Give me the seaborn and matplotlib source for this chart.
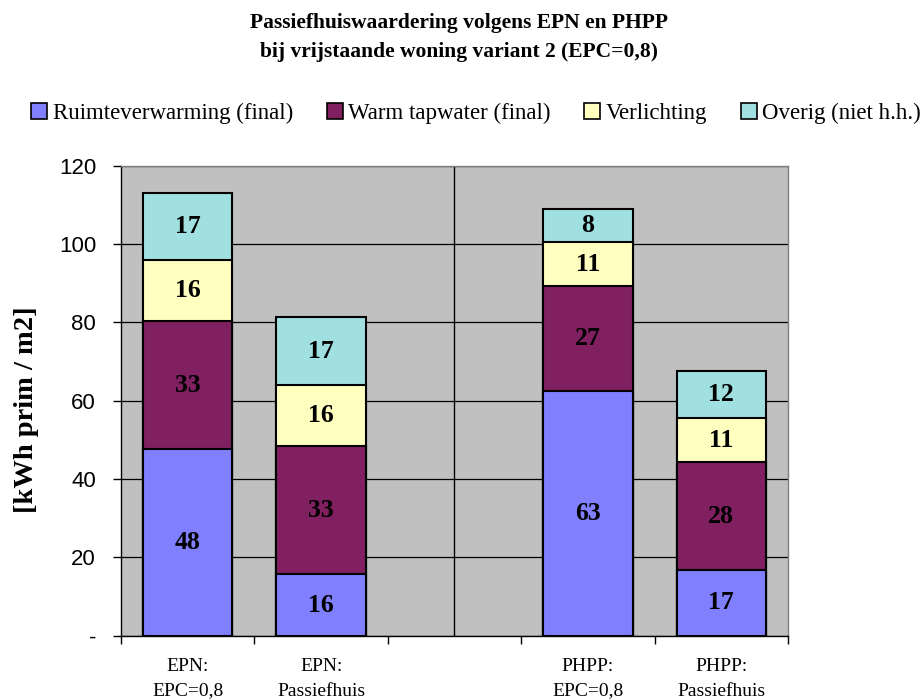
import matplotlib
matplotlib.use("Agg")
import matplotlib.pyplot as plt
import seaborn as sns
import pandas as pd
import numpy as np
from matplotlib.patches import Patch

categories = ["EPN:\nEPC=0,8", "EPN:\nPassiefhuis", " ", "PHPP:\nEPC=0,8", "PHPP:\nPassiefhuis"]
bar_categories = ["EPN:\nEPC=0,8", "EPN:\nPassiefhuis", "PHPP:\nEPC=0,8", "PHPP:\nPassiefhuis"]
series = ["Ruimteverwarming (final)", "Warm tapwater (final)", "Verlichting", "Overig (niet h.h.)"]
ruimte = [47.6, 15.6, 62.6, 16.7]
tapwater = [32.8, 32.8, 26.7, 27.6]
verlichting = [15.6, 15.6, 11.2, 11.3]
overig = [17.2, 17.3, 8.4, 12.1]
colors = ["#8080FF", "#802060", "#FFFFC0", "#A0E0E0"]
yticks = [0, 20, 40, 60, 80, 100, 120]
yticklabels = ["-", "20", "40", "60", "80", "100", "120"]

sns.set_style("white")
plt.rcParams["text.color"] = "black"
plt.rcParams["xtick.color"] = "black"
plt.rcParams["ytick.color"] = "black"
plt.rcParams["axes.labelcolor"] = "black"
serif = ["Liberation Serif", "DejaVu Serif"]
sans = ["Liberation Sans", "DejaVu Sans"]

fig = plt.figure(figsize=(9.23, 7.0), dpi=100)
ax = fig.add_axes([0.1311, 0.0921, 0.7226, 0.6708])
ax.set_facecolor("#C0C0C0")

vals = [ruimte, tapwater, verlichting, overig]
cum = np.cumsum(np.array(vals), axis=0)

# draw cumulative bars, tallest first
for i in range(len(series) - 1, -1, -1):
    df = pd.DataFrame({"cat": bar_categories, "val": cum[i]})
    sns.barplot(data=df, x="cat", y="val", order=categories, color=colors[i],
                width=0.67, edgecolor="black", linewidth=1.5, saturation=1,
                ax=ax, zorder=3)

# segment labels
for i in range(len(series)):
    for j, cat in enumerate(bar_categories):
        xpos = categories.index(cat)
        ypos = cum[i][j] - vals[i][j] / 2
        ax.text(xpos, ypos, f"{vals[i][j]:.0f}", ha="center", va="center", color="black",
                fontsize=18.5, fontweight="bold", family=serif, zorder=5)

ax.set_ylim(0, 120)
ax.set_xlim(-0.5, 4.5)
ax.set_yticks(yticks)
ax.set_yticklabels(yticklabels, family=sans, fontsize=16)
ax.yaxis.grid(True, color="black", linewidth=0.9, zorder=1)
ax.set_axisbelow(True)
ax.axvline(2, color="black", linewidth=1.0, zorder=2)

ax.set_xticks(np.arange(-0.5, 5, 1.0))
ax.set_xticklabels([])
ax.set_xticks(range(len(categories)), minor=True)
ax.set_xticklabels(categories, minor=True, family=serif, fontsize=14, linespacing=1.6)
ax.tick_params(axis="x", which="minor", length=0, pad=16)
ax.tick_params(axis="x", which="major", length=6, width=1, direction="out", bottom=True)
ax.tick_params(axis="y", length=6, width=1, direction="out", left=True, pad=12)
ax.set_xlabel("")
ax.set_ylabel("[kWh prim / m2]", family=serif, fontsize=20.5, fontweight="bold")
ax.yaxis.set_label_coords(-0.123, 0.482)

for s in ["left", "bottom"]:
    ax.spines[s].set_color("black")
    ax.spines[s].set_linewidth(1.0)
for s in ["top", "right"]:
    ax.spines[s].set_color("#808080")
    ax.spines[s].set_linewidth(1.0)

fig.text(0.497, 0.981, "Passiefhuiswaardering volgens EPN en PHPP\nbij vrijstaande woning variant 2 (EPC=0,8)",
         ha="center", va="top", family=serif, fontsize=15.5, fontweight="bold", linespacing=1.6)

handles = [Patch(facecolor=c, edgecolor="black", linewidth=1.2) for c in colors]
fig.legend(handles, series, loc="center", bbox_to_anchor=(0.516, 0.838), ncol=4, frameon=False,
           prop={"family": serif, "size": 16.5}, handlelength=0.7, handleheight=0.7,
           handletextpad=0.25, columnspacing=1.45)

fig.savefig("out.png", dpi=100)
